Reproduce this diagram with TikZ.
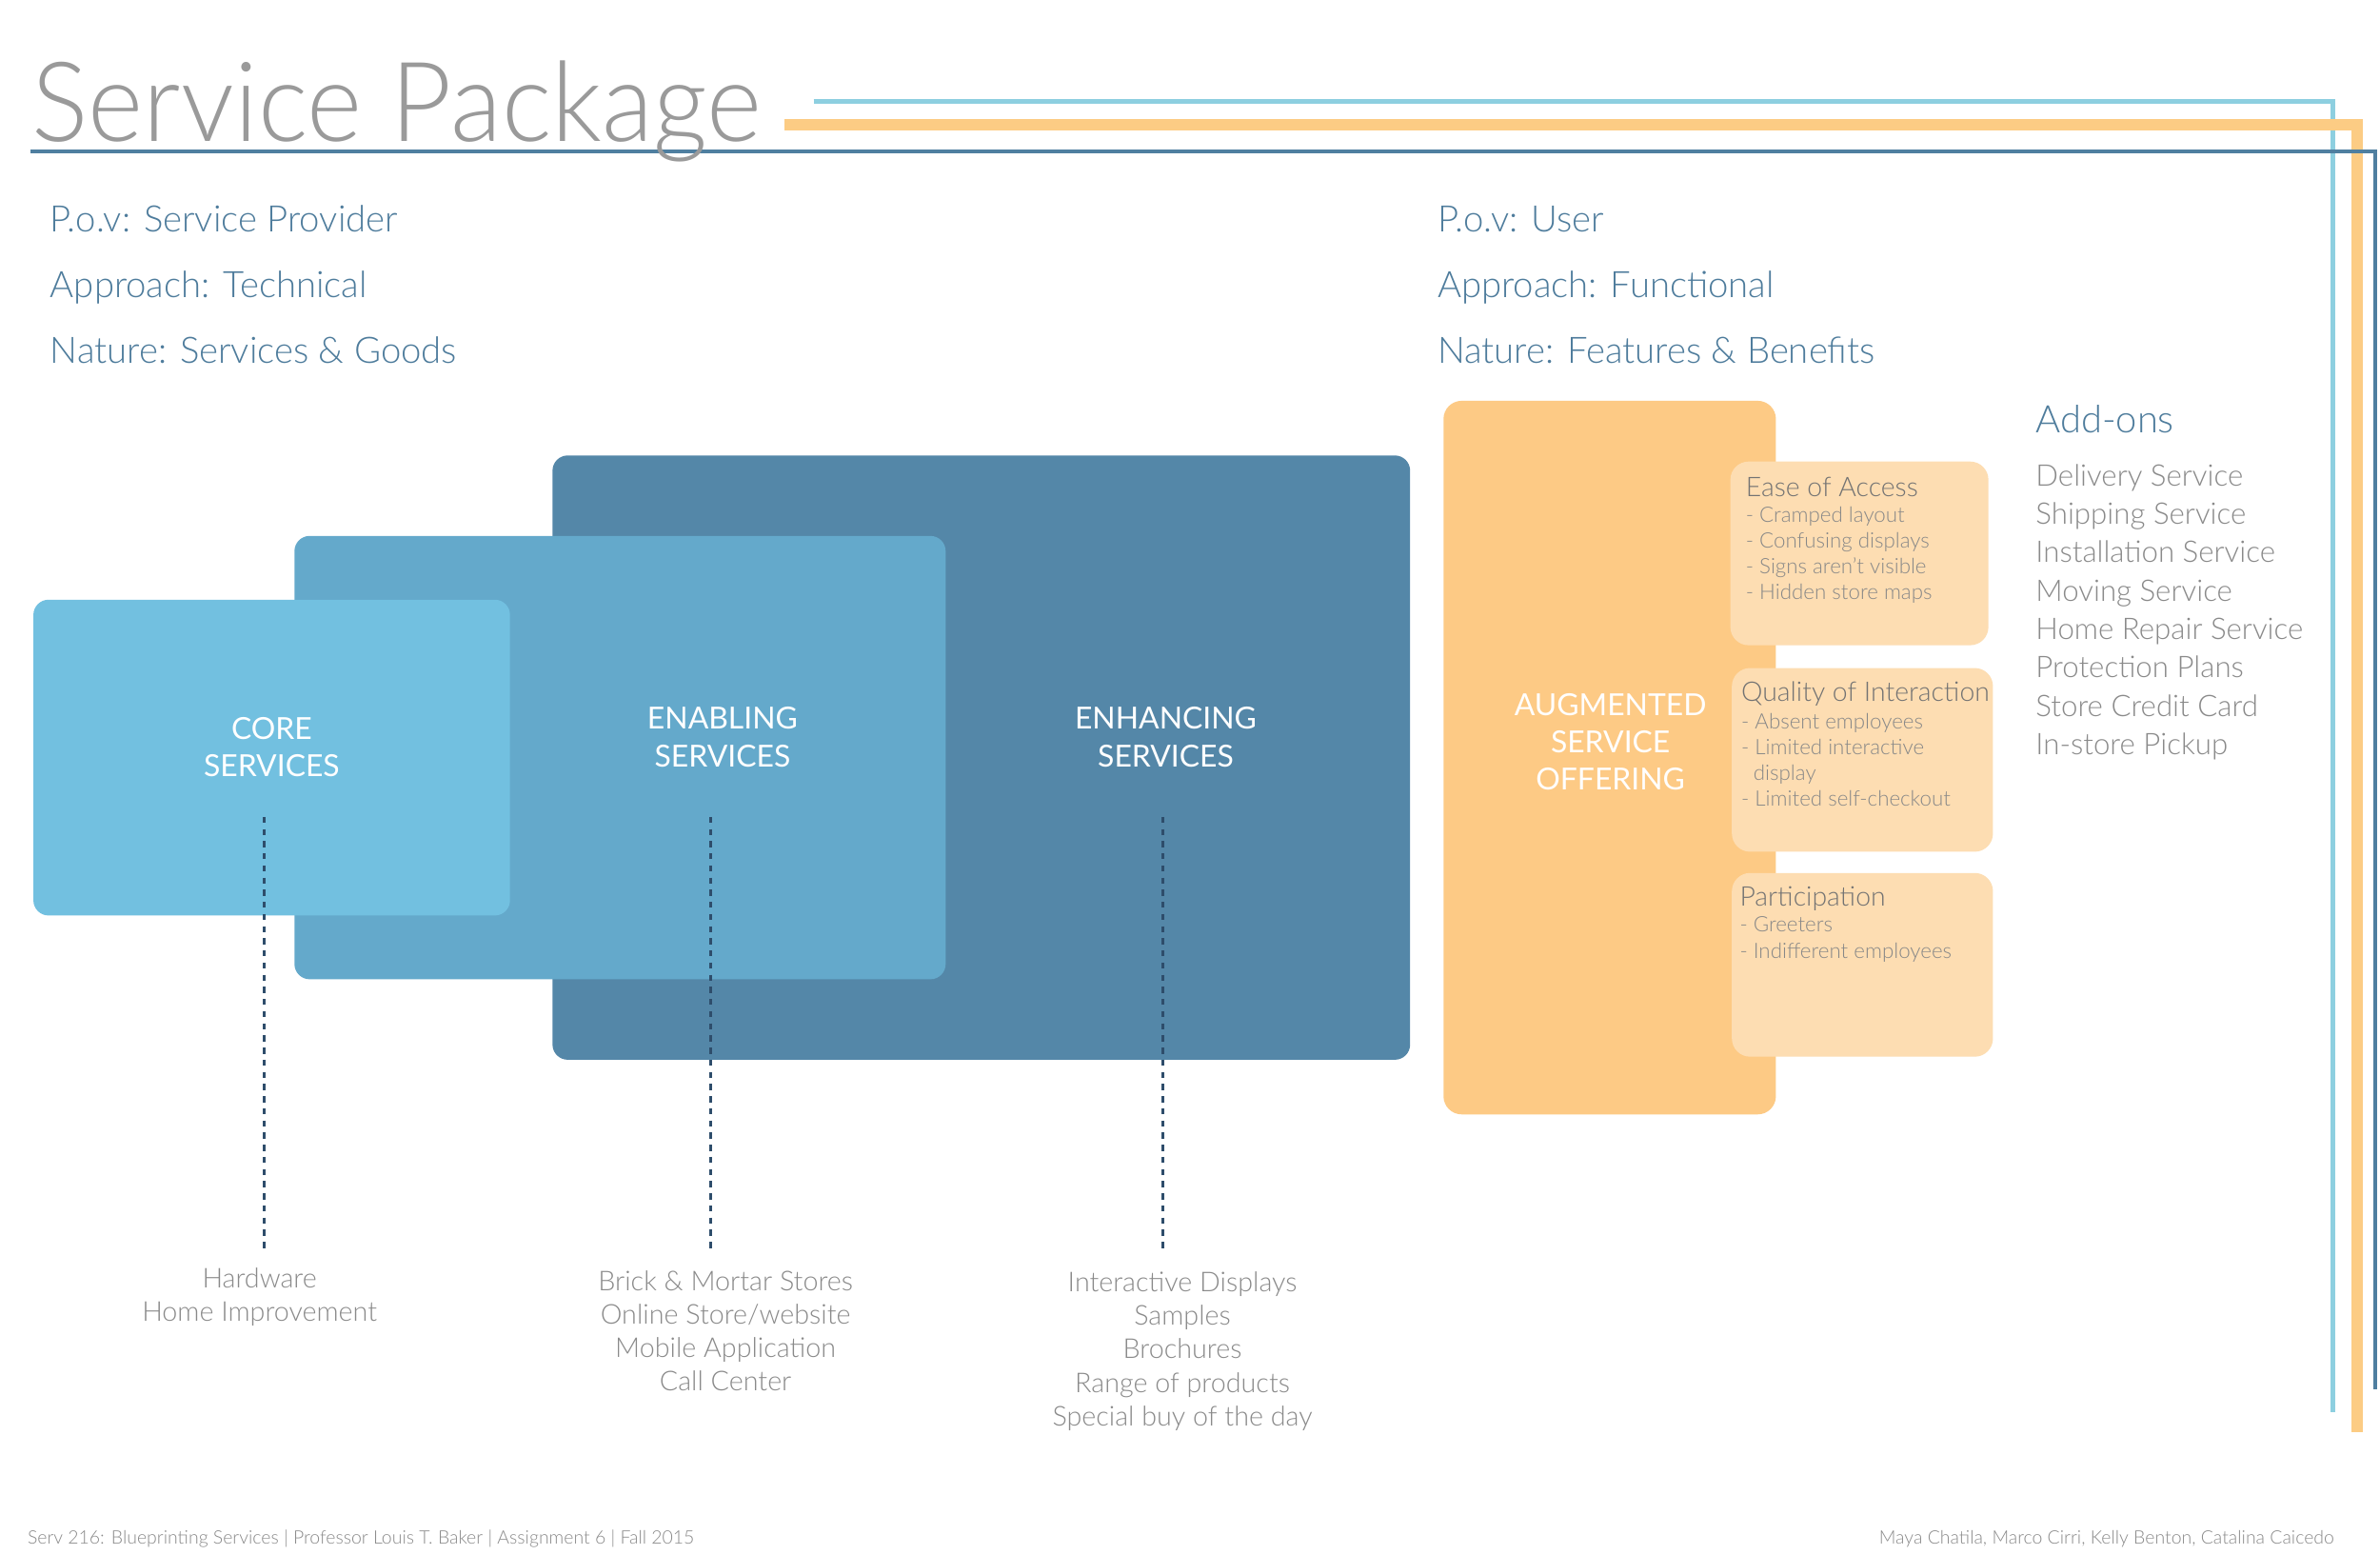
\documentclass[tikz,border=0pt]{standalone}
\usepackage{fontspec}
\IfFontExistsTF{Lato Light}{\setmainfont{Lato Light}}{\setmainfont{Lato}}
\newfontfamily\labelfont{Lato}
\definecolor{titlegray}{HTML}{9A9A9A}
\definecolor{steel}{HTML}{4E7C9C}
\definecolor{txtgray}{HTML}{8A8A8A}
\definecolor{itemgray}{HTML}{888888}
\definecolor{lineblue}{HTML}{8DCFE0}
\definecolor{lineorange}{HTML}{FCCC84}
\definecolor{linedark}{HTML}{4F7FA0}
\definecolor{boxdark}{HTML}{5487A8}
\definecolor{boxmid}{HTML}{64A9CB}
\definecolor{boxlight}{HTML}{72C0E0}
\definecolor{dashcol}{HTML}{2E4D6B}
\definecolor{orbig}{HTML}{FDCA85}
\definecolor{orlight}{HTML}{FDDDB2}
\begin{document}
\begin{tikzpicture}[x=1pt,y=-1pt,
  panel/.style={rounded corners=10pt, inner sep=0pt, outer sep=0pt},
  boxlabel/.style={text=white, align=center, inner sep=0pt, font=\labelfont\fontsize{20}{24.5}\selectfont},
  header/.style={text=steel, anchor=base west, inner sep=0pt, font=\fontsize{24}{24}\selectfont},
  bottomtext/.style={text=txtgray, align=center, anchor=base, inner sep=0pt, font=\fontsize{18}{22}\selectfont},
  subtitle/.style={text=gray!90!black, anchor=base west, inner sep=0pt, font=\fontsize{17.8}{17.8}\selectfont},
  items/.style={text=itemgray, align=left, anchor=base west, inner sep=0pt, font=\fontsize{14}{17}\selectfont},
  dashline/.style={dashcol, line width=2pt, dash pattern=on 4pt off 4pt},
  footer/.style={text=txtgray, inner sep=0pt, font=\fontsize{12.2}{12.2}\selectfont}
]
\useasboundingbox (0,0) rectangle (1568,1024);
\fill[white] (0,0) rectangle (1568,1024);

% frame lines
\coordinate (lb1) at (536,67);
\coordinate (lb2) at (1537,67);
\coordinate (lb3) at (1537,930);
\coordinate (lo1) at (517,82);
\coordinate (lo2) at (1553,82);
\coordinate (lo3) at (1553,943);
\coordinate (ld1) at (20,100);
\coordinate (ld2) at (1565,100);
\coordinate (ld3) at (1565,915);
\draw[lineblue, line width=3pt] (lb1) -- (lb2) -- (lb3);
\draw[lineorange, line width=7.5pt] (lo1) -- (lo2) -- (lo3);
\draw[linedark, line width=2.5pt] (ld1) -- (ld2) -- (ld3);

% title
\node[text=titlegray, anchor=base west, inner sep=0pt, font=\fontsize{73}{73}\selectfont] (title) at (21,93) {\scalebox{0.956}[1]{Service Package}};

% headers
\node[header] (h1) at (33,153) {P.o.v: Service Provider};
\node[header] (h2) at (33,196) {Approach: Technical};
\node[header] (h3) at (33,239) {Nature: Services \& Goods};
\node[header] (h4) at (947,153) {P.o.v: User};
\node[header] (h5) at (947,196) {Approach: Functional};
\node[header] (h6) at (947,239) {Nature: Features \& Benefits};

% blue panels
\node[panel, fill=boxdark, minimum width=565pt, minimum height=398pt] (enh) at (646.5,499) {};
\node[panel, fill=boxmid, minimum width=429pt, minimum height=292pt] (ena) at (408.5,499) {};
\node[panel, fill=boxlight, minimum width=314pt, minimum height=208pt] (core) at (179,499) {};

\node[boxlabel] (corelbl) at (179,492) {CORE\\SERVICES};
\node[boxlabel] (enalbl) at (476,485.5) {ENABLING\\SERVICES};
\node[boxlabel] (enhlbl) at (768,485.5) {ENHANCING\\SERVICES};

% dashed connectors
\coordinate (d1a) at (174,538); \coordinate (d1b) at (174,822);
\coordinate (d2a) at (468,538); \coordinate (d2b) at (468,822);
\coordinate (d3a) at (766,538); \coordinate (d3b) at (766,822);
\draw[dashline] (d1a) -- (d1b);
\draw[dashline] (d2a) -- (d2b);
\draw[dashline] (d3a) -- (d3b);

% bottom lists (anchor base = last line)
\node[bottomtext] (coretxt) at (171,870) {Hardware\\Home Improvement};
\node[bottomtext] (enatxt) at (478,916) {Brick \& Mortar Stores\\Online Store/website\\Mobile Application\\Call Center};
\node[bottomtext] (enhtxt) at (779,939) {Interactive Displays\\Samples\\Brochures\\Range of products\\Special buy of the day};

% orange panels
\node[panel, rounded corners=12pt, fill=orbig, minimum width=219pt, minimum height=470pt] (aug) at (1060.5,499) {};
\node[boxlabel] (auglbl) at (1061,488.5) {AUGMENTED\\SERVICE\\OFFERING};
\node[panel, rounded corners=12pt, fill=orlight, minimum width=170pt, minimum height=121pt] (ease) at (1225,364.5) {};
\node[panel, rounded corners=12pt, fill=orlight, minimum width=172pt, minimum height=121pt] (qual) at (1227,500.5) {};
\node[panel, rounded corners=12pt, fill=orlight, minimum width=172pt, minimum height=121pt] (part) at (1227,635.5) {};

\node[subtitle] (easet) at (1150,327) {Ease of Access};
\node[items] (easei) at (1150,395) {- Cramped layout\\- Confusing displays\\- Signs aren't visible\\- Hidden store maps};
\node[subtitle] (qualt) at (1147,462) {Quality of Interaction};
\node[items] (quali) at (1147,531) {- Absent employees\\- Limited interactive\\\hspace*{8pt}display\\- Limited self-checkout};
\node[subtitle] (partt) at (1146,597) {Participation};
\node[items] (parti) at (1146,631) {- Greeters\\- Indifferent employees};

% add-ons
\node[header, font=\fontsize{25}{25}\selectfont] (addt) at (1341,285) {Add-ons};
\node[text=txtgray, align=left, anchor=base west, inner sep=0pt, font=\fontsize{19.6}{25.3}\selectfont] (addl) at (1341,497) {Delivery Service\\Shipping Service\\Installation Service\\Moving Service\\Home Repair Service\\Protection Plans\\Store Credit Card\\In-store Pickup};

% footer
\node[footer, anchor=base west] (fl) at (18,1017) {Serv 216: Blueprinting Services | Professor Louis T. Baker | Assignment 6 | Fall 2015};
\node[footer, anchor=base east] (fr) at (1538,1017) {Maya Chatila, Marco Cirri, Kelly Benton, Catalina Caicedo};
\end{tikzpicture}
\end{document}
